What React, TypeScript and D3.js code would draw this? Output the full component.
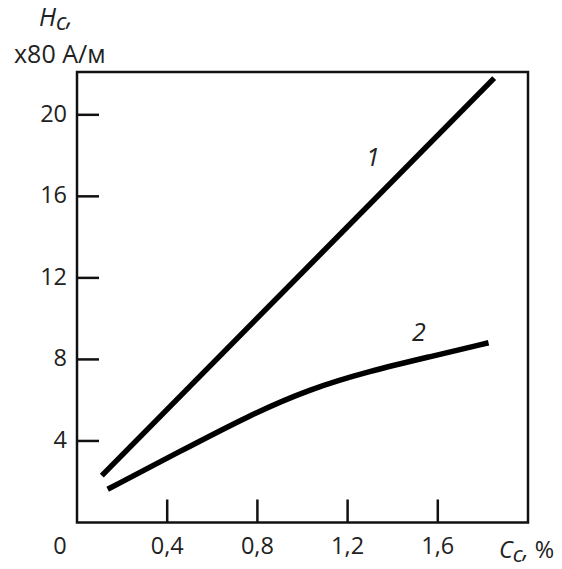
import React, { useEffect, useRef } from 'react';
import * as d3 from 'd3';

const xTicks = [0.4, 0.8, 1.2, 1.6];
const xTickLabels = ['0,4', '0,8', '1,2', '1,6'];
const yTicks = [4, 8, 12, 16, 20];

// кривая 1 — прямая
const curve1X = [0.11, 1.85];
const curve1Y = [2.3, 21.8];

// кривая 2
const curve2X = [0.136, 0.45, 0.766, 1.032, 1.298, 1.564, 1.825];
const curve2Y = [1.63, 3.45, 5.27, 6.55, 7.43, 8.13, 8.82];

const App = () => {
  const ref = useRef<SVGSVGElement>(null);

  useEffect(() => {
    if (!ref.current) return;
    const width = 562;
    const height = 569;
    const svg = d3.select(ref.current);
    svg.selectAll('*').remove();
    svg.attr('width', width).attr('height', height);

    const left = 77, right = 528, top = 72, bottom = 522.5;
    const x = d3.scaleLinear().domain([0, 2.0]).range([left, right]);
    const y = d3.scaleLinear().domain([0, 22.1]).range([bottom, top]);
    const font = '"Open Sans", "Noto Sans", sans-serif';
    const fs = 23.5;

    // рамка
    svg.append('rect')
      .attr('x', left).attr('y', top)
      .attr('width', right - left).attr('height', bottom - top)
      .attr('fill', 'none').attr('stroke', '#111').attr('stroke-width', 2.5);

    // деления по Y
    yTicks.forEach(t => {
      svg.append('line')
        .attr('x1', left).attr('x2', left + 22)
        .attr('y1', y(t)).attr('y2', y(t))
        .attr('stroke', '#111').attr('stroke-width', 2.5);
      svg.append('text')
        .attr('x', 67).attr('y', y(t) + 7)
        .attr('text-anchor', 'end')
        .attr('font-family', font).attr('font-size', fs)
        .attr('fill', '#222')
        .text(t);
    });

    // деления по X
    xTicks.forEach((t, i) => {
      svg.append('line')
        .attr('x1', x(t)).attr('x2', x(t))
        .attr('y1', bottom).attr('y2', bottom - 23)
        .attr('stroke', '#111').attr('stroke-width', 2.5);
      svg.append('text')
        .attr('x', x(t)).attr('y', 554)
        .attr('text-anchor', 'middle')
        .attr('font-family', font).attr('font-size', fs)
        .attr('fill', '#222')
        .text(xTickLabels[i]);
    });

    svg.append('text')
      .attr('x', 60).attr('y', 554)
      .attr('text-anchor', 'middle')
      .attr('font-family', font).attr('font-size', fs)
      .attr('fill', '#222')
      .text('0');

    // кривые
    const line = d3.line<[number, number]>()
      .x(d => x(d[0])).y(d => y(d[1]))
      .curve(d3.curveBasis);

    const c1 = curve1X.map((v, i) => [v, curve1Y[i]] as [number, number]);
    const c2 = curve2X.map((v, i) => [v, curve2Y[i]] as [number, number]);

    [c1, c2].forEach(c => {
      svg.append('path')
        .attr('d', line(c))
        .attr('fill', 'none')
        .attr('stroke', '#000')
        .attr('stroke-width', 5.5);
    });

    svg.append('text')
      .attr('x', 373).attr('y', 166)
      .attr('text-anchor', 'middle')
      .attr('font-family', font).attr('font-size', 25)
      .attr('font-style', 'italic').attr('fill', '#222')
      .text('1');
    svg.append('text')
      .attr('x', 419).attr('y', 341)
      .attr('text-anchor', 'middle')
      .attr('font-family', font).attr('font-size', 25)
      .attr('font-style', 'italic').attr('fill', '#222')
      .text('2');

    // подписи осей
    const hc = svg.append('text')
      .attr('x', 39).attr('y', 26)
      .attr('font-family', font).attr('font-size', 25)
      .attr('font-style', 'italic').attr('fill', '#222');
    hc.append('tspan').text('H');
    hc.append('tspan').attr('font-size', 23).attr('dy', 4).text('c');
    hc.append('tspan').attr('dy', -4).text(',');

    svg.append('text')
      .attr('x', 14).attr('y', 63)
      .attr('font-family', font).attr('font-size', 25)
      .attr('fill', '#222')
      .text('x80 А/м');

    const cc = svg.append('text')
      .attr('x', 499).attr('y', 558)
      .attr('font-family', font).attr('font-size', 23.5)
      .attr('fill', '#222');
    cc.append('tspan').attr('font-style', 'italic').text('C');
    cc.append('tspan').attr('font-style', 'italic').attr('font-size', 22).attr('dy', 4).text('c');
    cc.append('tspan').attr('font-style', 'italic').attr('dy', -4).text(',');
    cc.append('tspan').text(' %');
  }, []);

  return (
    <svg ref={ref} style={{ position: 'absolute', left: 0, top: 0, background: '#fff' }} />
  );
};

export default App;
